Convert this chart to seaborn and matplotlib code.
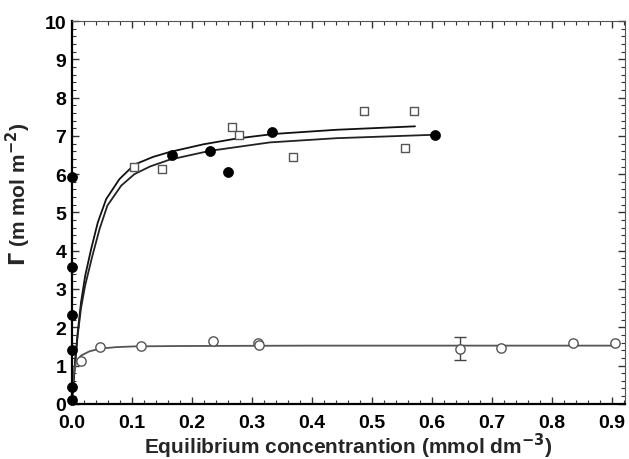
import numpy as np
import pandas as pd
import matplotlib
matplotlib.use("Agg")
import matplotlib.pyplot as plt
from matplotlib.ticker import MultipleLocator
import seaborn as sns

# ── Data ─────────────────────────────────────────────────
filled_x = [0.0, 0.0, 0.0, 0.0, 0.0, 0.0, 0.167, 0.23, 0.26, 0.333, 0.605]
filled_y = [0.10, 0.44, 1.41, 2.32, 3.58, 5.93, 6.50, 6.60, 6.06, 7.10, 7.02]

square_x = [0.104, 0.150, 0.267, 0.278, 0.369, 0.487, 0.555, 0.571]
square_y = [6.20, 6.14, 7.22, 7.03, 6.46, 7.65, 6.68, 7.65]

open_x = [0.015, 0.046, 0.115, 0.235, 0.310, 0.312, 0.647, 0.715, 0.835, 0.905]
open_y = [1.12, 1.49, 1.51, 1.64, 1.59, 1.54, 1.44, 1.46, 1.60, 1.60]
err_x = [0.647]
err_y = [1.44]
err_size = [0.30]

# fitted curves
fit_sq_x = [0.0, 0.002, 0.0055, 0.0095, 0.015, 0.022, 0.032, 0.043, 0.057, 0.079,
            0.104, 0.135, 0.163, 0.219, 0.274, 0.336, 0.441, 0.572]
fit_sq_y = [0.13, 0.48, 1.17, 1.87, 2.65, 3.35, 4.05, 4.74, 5.35, 5.87,
            6.25, 6.45, 6.58, 6.78, 6.93, 7.05, 7.16, 7.25]
fit_fc_x = [0.0, 0.002, 0.0055, 0.0095, 0.015, 0.022, 0.034, 0.046, 0.059, 0.082,
            0.104, 0.130, 0.163, 0.230, 0.330, 0.441, 0.605]
fit_fc_y = [0.13, 0.46, 1.12, 1.80, 2.50, 3.10, 3.87, 4.57, 5.18, 5.70,
            6.00, 6.20, 6.38, 6.61, 6.83, 6.94, 7.03]
fit_oc_x = [0.0, 0.002, 0.007, 0.015, 0.029, 0.046, 0.073, 0.104, 0.180, 0.400,
            0.650, 0.905]
fit_oc_y = [0.13, 0.74, 1.10, 1.26, 1.37, 1.44, 1.48, 1.50, 1.51, 1.52,
            1.52, 1.52]

sns.set_style("ticks")
plt.rcParams["font.family"] = ["Liberation Sans", "DejaVu Sans"]
plt.rcParams["font.weight"] = "bold"

fig = plt.figure(figsize=(6.29, 4.6), dpi=100)
ax = fig.add_axes([0.1145, 0.12, 0.879, 0.832])

# curves
for fx, fy, col in [(fit_sq_x, fit_sq_y, "#111111"),
                    (fit_fc_x, fit_fc_y, "#222222"),
                    (fit_oc_x, fit_oc_y, "#555555")]:
    sns.lineplot(x=fx, y=fy, ax=ax, color=col, linewidth=1.3,
                 sort=False, estimator=None, legend=False)

# markers
sns.scatterplot(x=square_x, y=square_y, ax=ax, marker="s", s=30,
                facecolor="white", edgecolor="#555555", linewidth=1.0, zorder=3)
sns.scatterplot(x=open_x, y=open_y, ax=ax, marker="o", s=45,
                facecolor="white", edgecolor="#555555", linewidth=1.0, zorder=3)
ax.errorbar(err_x, err_y, yerr=err_size, fmt="none", ecolor="#444444",
            elinewidth=1.0, capsize=4, capthick=1.0, zorder=2)
sns.scatterplot(x=filled_x, y=filled_y, ax=ax, marker="o", s=52,
                color="black", edgecolor="black", linewidth=0.5, zorder=4,
                clip_on=False)

ax.set_xlim(0, 0.922)
ax.set_ylim(0, 10)
ax.xaxis.set_minor_locator(MultipleLocator(0.02))
ax.yaxis.set_major_locator(MultipleLocator(1))
ax.yaxis.set_minor_locator(MultipleLocator(0.2))
ax.set_xticks(np.arange(0, 0.95, 0.1))
ax.set_xticklabels([f"{v:.1f}" for v in np.arange(0, 0.95, 0.1)])

ax.tick_params(which="both", direction="in", top=True, right=True, colors="#333333")
ax.tick_params(which="major", length=5, width=1.0, labelsize=14, labelcolor="black")
ax.tick_params(which="minor", length=3, width=0.8)
ax.tick_params(axis="x", which="major", pad=7)
ax.tick_params(axis="y", which="major", pad=4)
for lab in ax.get_xticklabels() + ax.get_yticklabels():
    lab.set_fontweight("bold")

for side in ["left", "bottom"]:
    ax.spines[side].set_linewidth(1.6)
    ax.spines[side].set_color("black")
for side in ["top", "right"]:
    ax.spines[side].set_linewidth(0.8)
    ax.spines[side].set_color("#555555")

ax.set_xlabel("Equilibrium concentrantion (mmol dm$^{\\mathbf{-3}}$)",
              fontsize=15, fontweight="bold")
ax.set_ylabel("$\\Gamma$ (m mol m$^{\\mathbf{-2}}$)",
              fontsize=15, fontweight="bold")
ax.xaxis.set_label_coords(0.5, -0.071)
ax.yaxis.set_label_coords(-0.07, 0.55)

fig.savefig("out.png", dpi=100)
plt.close(fig)
